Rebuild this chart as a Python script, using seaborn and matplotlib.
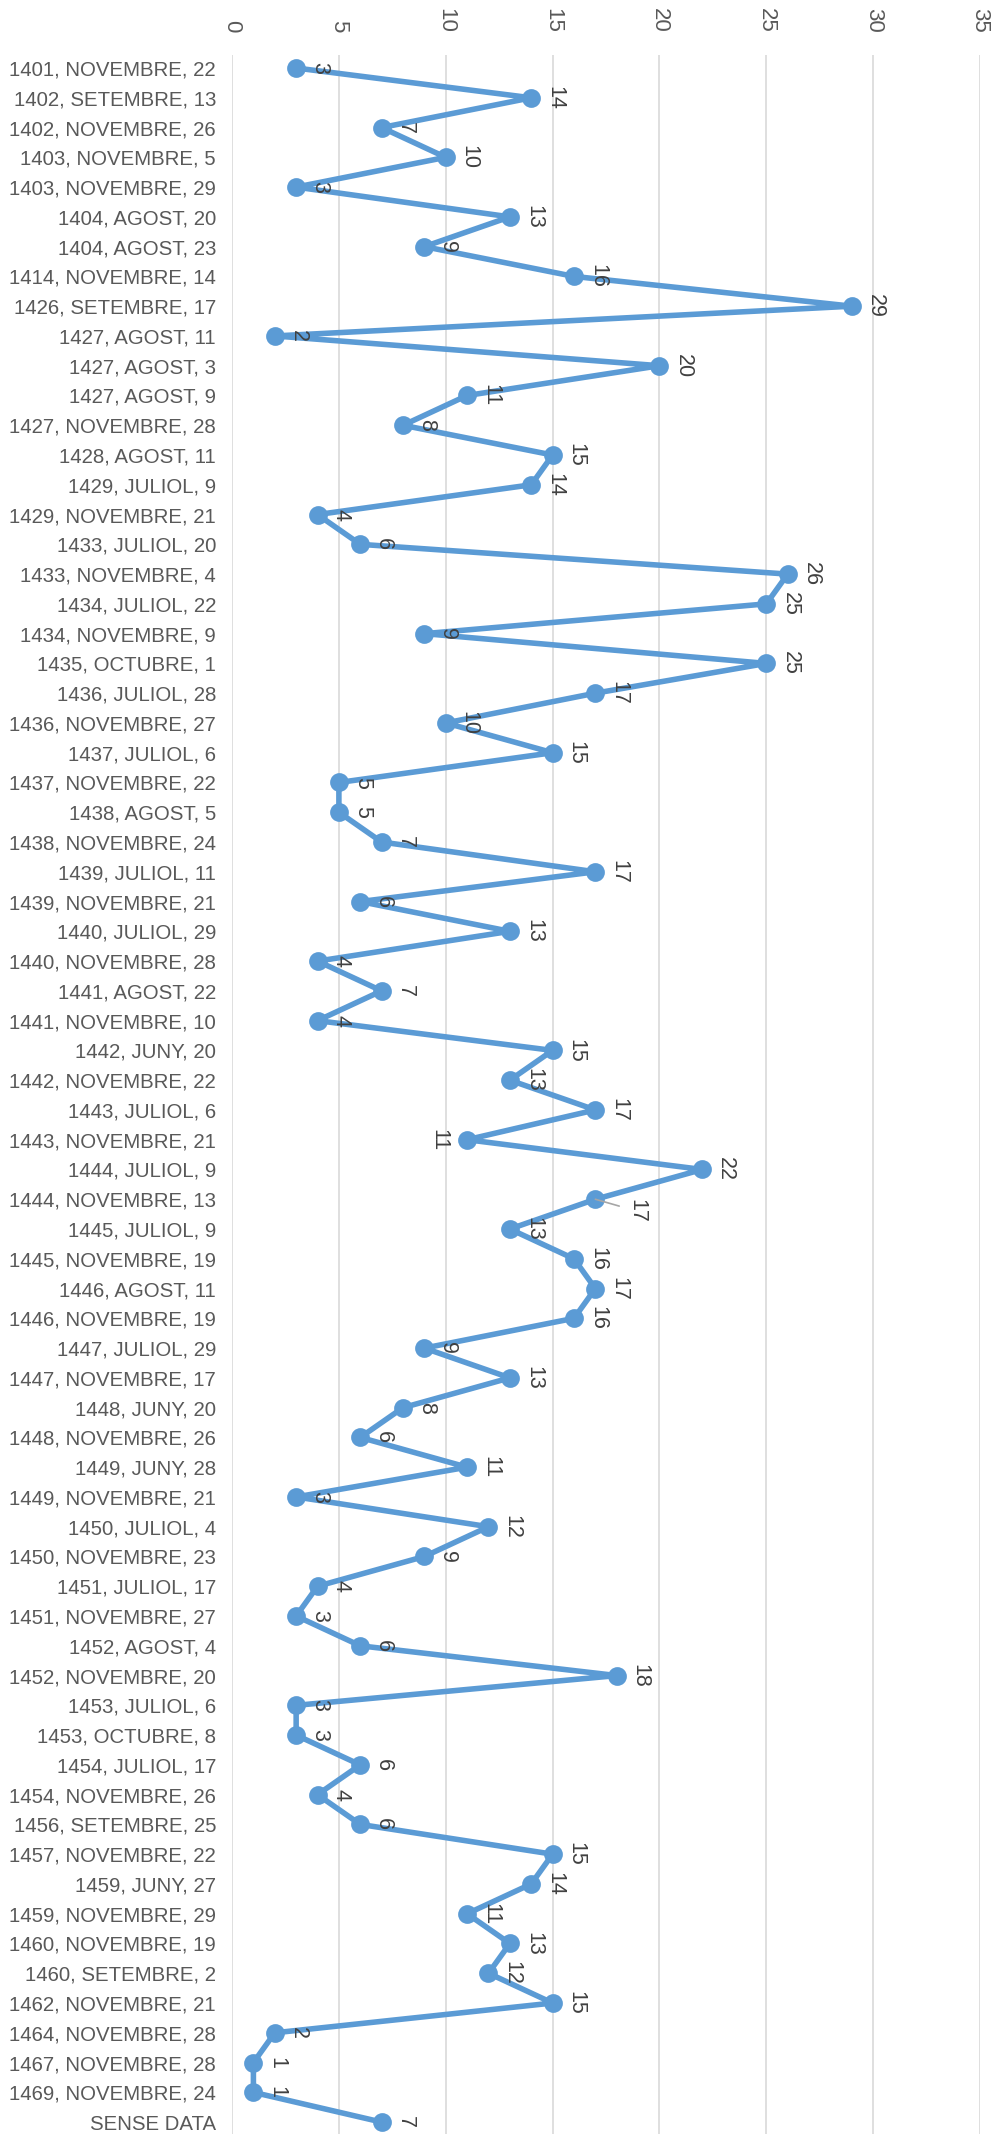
import matplotlib
matplotlib.use("Agg")
import matplotlib.pyplot as plt
import seaborn as sns
import pandas as pd

categories = [
    "1401, NOVEMBRE, 22", "1402, SETEMBRE, 13", "1402, NOVEMBRE, 26", "1403, NOVEMBRE, 5",
    "1403, NOVEMBRE, 29", "1404, AGOST, 20", "1404, AGOST, 23", "1414, NOVEMBRE, 14",
    "1426, SETEMBRE, 17", "1427, AGOST, 11", "1427, AGOST, 3", "1427, AGOST, 9",
    "1427, NOVEMBRE, 28", "1428, AGOST, 11", "1429, JULIOL, 9", "1429, NOVEMBRE, 21",
    "1433, JULIOL, 20", "1433, NOVEMBRE, 4", "1434, JULIOL, 22", "1434, NOVEMBRE, 9",
    "1435, OCTUBRE, 1", "1436, JULIOL, 28", "1436, NOVEMBRE, 27", "1437, JULIOL, 6",
    "1437, NOVEMBRE, 22", "1438, AGOST, 5", "1438, NOVEMBRE, 24", "1439, JULIOL, 11",
    "1439, NOVEMBRE, 21", "1440, JULIOL, 29", "1440, NOVEMBRE, 28", "1441, AGOST, 22",
    "1441, NOVEMBRE, 10", "1442, JUNY, 20", "1442, NOVEMBRE, 22", "1443, JULIOL, 6",
    "1443, NOVEMBRE, 21", "1444, JULIOL, 9", "1444, NOVEMBRE, 13", "1445, JULIOL, 9",
    "1445, NOVEMBRE, 19", "1446, AGOST, 11", "1446, NOVEMBRE, 19", "1447, JULIOL, 29",
    "1447, NOVEMBRE, 17", "1448, JUNY, 20", "1448, NOVEMBRE, 26", "1449, JUNY, 28",
    "1449, NOVEMBRE, 21", "1450, JULIOL, 4", "1450, NOVEMBRE, 23", "1451, JULIOL, 17",
    "1451, NOVEMBRE, 27", "1452, AGOST, 4", "1452, NOVEMBRE, 20", "1453, JULIOL, 6",
    "1453, OCTUBRE, 8", "1454, JULIOL, 17", "1454, NOVEMBRE, 26", "1456, SETEMBRE, 25",
    "1457, NOVEMBRE, 22", "1459, JUNY, 27", "1459, NOVEMBRE, 29", "1460, NOVEMBRE, 19",
    "1460, SETEMBRE, 2", "1462, NOVEMBRE, 21", "1464, NOVEMBRE, 28", "1467, NOVEMBRE, 28",
    "1469, NOVEMBRE, 24", "SENSE DATA",
]
values = [
    3, 14, 7, 10, 3, 13, 9, 16, 29, 2,
    20, 11, 8, 15, 14, 4, 6, 26, 25, 9,
    25, 17, 10, 15, 5, 5, 7, 17, 6, 13,
    4, 7, 4, 15, 13, 17, 11, 22, 17, 13,
    16, 17, 16, 9, 13, 8, 6, 11, 3, 12,
    9, 4, 3, 6, 18, 3, 3, 6, 4, 6,
    15, 14, 11, 13, 12, 15, 2, 1, 1, 7,
]
x_ticks = [0, 5, 10, 15, 20, 25, 30, 35]

sns.set_theme(style="white")
plt.rcParams["font.family"] = ["Liberation Sans", "DejaVu Sans"]

LINE = "#5B9BD5"
df = pd.DataFrame({"cat": categories, "val": values})

fig = plt.figure(figsize=(9.98, 21.34), dpi=100)
ax = fig.add_axes([0.2325, -0.0014, 0.7495, 0.9758])

sns.pointplot(data=df, x="val", y="cat", orient="h", order=categories,
              color=LINE, errorbar=None, markers="o", markersize=10.5,
              linewidth=4.0, ax=ax)

ax.set_xlim(0, 35)
ax.set_ylim(len(categories) - 0.5, -0.45)
ax.set_xticks(x_ticks)
for t in x_ticks:
    ax.axvline(t, color="#D9D9D9", lw=1.2, zorder=0)

for s in ax.spines.values():
    s.set_visible(False)

ax.xaxis.tick_top()
ax.tick_params(axis="x", length=0, pad=16, labelsize=16, labelcolor="#595959",
               labelrotation=-90)
ax.tick_params(axis="y", length=0, pad=11.5, labelsize=14.7, labelcolor="#595959")
ax.set_xlabel("")
ax.set_ylabel("")

LBL = dict(rotation=-90, ha="center", va="center", fontsize=15.5, color="#404040",
           textcoords="offset points")
for i, v in enumerate(values):
    if i == 36:
        ax.annotate(str(v), (v, i), xytext=(-20, 0), **LBL)
    elif i == 38:
        ax.annotate(str(v), (v, i), xytext=(30, -8.6), zorder=5,
                    arrowprops=dict(arrowstyle="-", color="#A6A6A6", lw=1.2,
                                    shrinkA=3, shrinkB=0), **LBL)
    else:
        ax.annotate(str(v), (v, i), xytext=(17, 0), **LBL)

fig.savefig("out.png", dpi=100)
